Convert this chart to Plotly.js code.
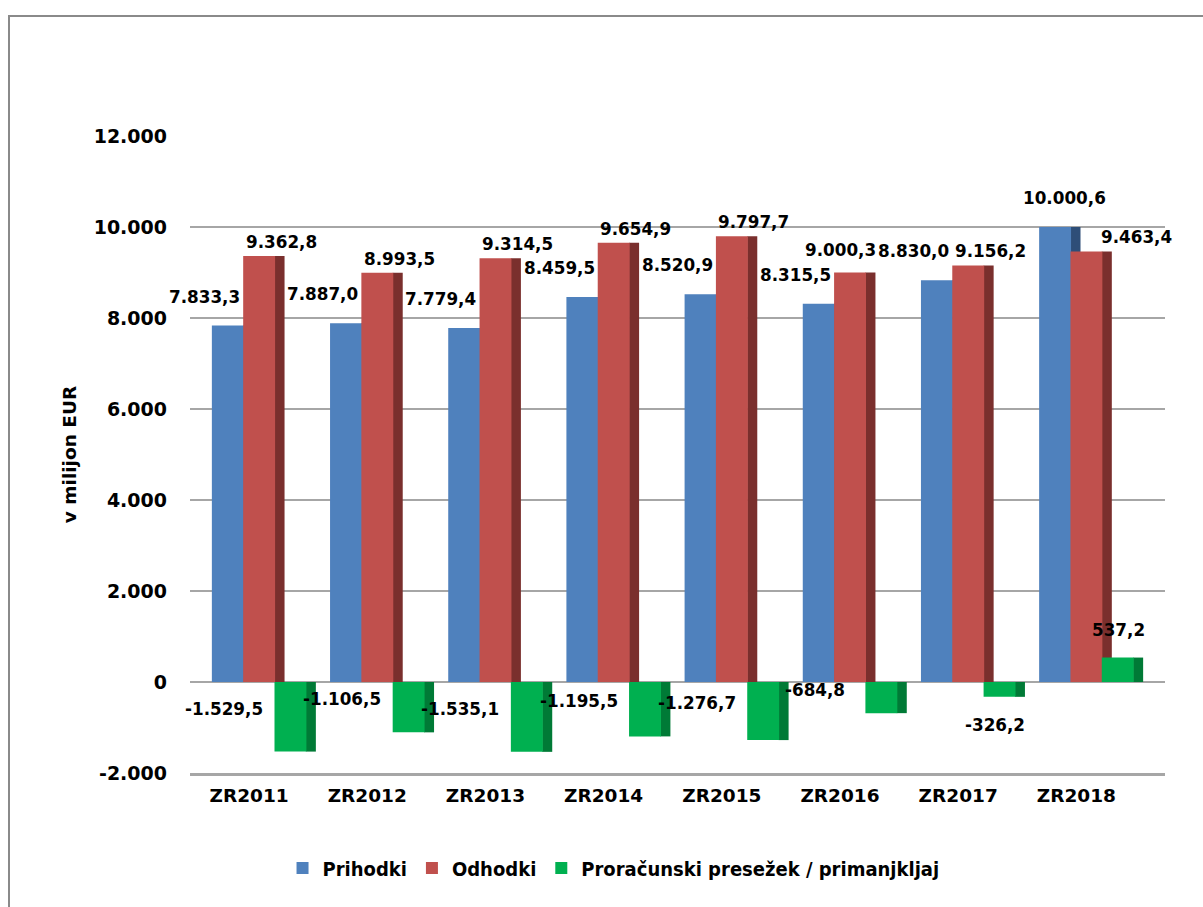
<!DOCTYPE html>
<html>
<head>
<meta charset="utf-8">
<script src="https://cdn.plot.ly/plotly-3.0.1.min.js"></script>
<style>
  html, body { margin:0; padding:0; background:#fff; overflow:hidden; }
  #frame { position:absolute; left:8px; top:15px; width:1300px; height:1000px; border:2px solid #8a8a8a; }
  #chart { position:absolute; left:0; top:0; width:1203px; height:907px; }
</style>
</head>
<body>
<div id="frame"></div>
<div id="chart"></div>
<script>
const categories = ['ZR2011','ZR2012','ZR2013','ZR2014','ZR2015','ZR2016','ZR2017','ZR2018'];
const prihodki = [7833.3, 7887.0, 7779.4, 8459.5, 8520.9, 8315.5, 8830.0, 10000.6];
const odhodki  = [9362.8, 8993.5, 9314.5, 9654.9, 9797.7, 9000.3, 9156.2, 9463.4];
const saldo    = [-1529.5, -1106.5, -1535.1, -1195.5, -1276.7, -684.8, -326.2, 537.2];
const seriesNames = ['Prihodki', 'Odhodki', 'Proračunski presežek / primanjkljaj'];
const yTickVals = [-2000, 0, 2000, 4000, 6000, 8000, 10000, 12000];

function fmt(v, dec) {
  const neg = v < 0;
  let s = Math.abs(v).toFixed(dec);
  let [ip, fp] = s.split('.');
  ip = ip.replace(/\B(?=(\d{3})+(?!\d))/g, '.');
  return (neg ? '-' : '') + ip + (fp !== undefined ? ',' + fp : '');
}

const W = 1203, H = 907;
const margin = {l:190, r:38, t:136, b:134};
const yRange = [-2000, 12000];
const pxPerUnit = (H - margin.t - margin.b) / (yRange[1] - yRange[0]);

const frontW = 0.27, sideW = 0.085;
const series = [
  {name: seriesNames[0], y: prihodki, color:'#4F81BD', side:'#2E4E78', off:-0.315},
  {name: seriesNames[1], y: odhodki,  color:'#C0504D', side:'#7A2F2D', off:-0.05},
  {name: seriesNames[2], y: saldo,    color:'#00B050', side:'#007A36', off: 0.215}
];

const traces = [];
series.forEach(s => {
  traces.push({
    type:'bar', x:categories, y:s.y, width:sideW, offset:s.off + frontW - 0.005,
    marker:{color:s.side, line:{width:0}}, showlegend:false, hoverinfo:'skip'
  });
  traces.push({
    type:'bar', name:s.name, x:categories, y:s.y, width:frontW, offset:s.off,
    marker:{color:s.color, line:{width:0}}, hoverinfo:'y'
  });
});

const labelFont = {family:'DejaVu Sans, Verdana, sans-serif', size:16.8, color:'#000', weight:'bold'};
const blueRaise = 28, redRaise = 14;
const annotations = [];
categories.forEach((c, i) => {
  const blueTaller = prihodki[i] > odhodki[i];
  annotations.push({x:c, y:prihodki[i], text:fmt(prihodki[i],1), showarrow:false,
    xanchor: blueTaller ? 'center' : 'right', xshift: blueTaller ? -12 : -7,
    yshift:blueRaise - 11, yanchor:'bottom', font:labelFont});
  // move the red label left when it would collide with the next group's blue label
  let redDx = blueTaller ? 60 : 32, redDy = 2;
  if (i + 1 < categories.length && !(prihodki[i+1] > odhodki[i+1])) {
    const redCenter = odhodki[i] * pxPerUnit + redRaise;
    const nextBlueCenter = prihodki[i+1] * pxPerUnit + blueRaise;
    if (Math.abs(redCenter - nextBlueCenter) < 22) { redDx = 0; redDy = 10; }
  }
  annotations.push({x:c, y:odhodki[i], text:fmt(odhodki[i],1), showarrow:false,
    xshift: redDx, yshift: redDy, yanchor:'bottom', font:labelFont});
  const v = saldo[i];
  if (v < 0 && Math.abs(v) >= 500) {
    annotations.push({x:c, y:v/2, text:fmt(v,1), showarrow:false,
      xshift:-25, yshift:8, yanchor:'middle', font:labelFont});
  } else {
    annotations.push({x:c, y:v, text:fmt(v,1), showarrow:false,
      xshift: v < 0 ? 37 : 42, yshift: v < 0 ? -16 : 16, yanchor: v < 0 ? 'top' : 'bottom', font:labelFont});
  }
});

const layout = {
  width:W, height:H,
  margin:margin,
  paper_bgcolor:'rgba(0,0,0,0)', plot_bgcolor:'rgba(0,0,0,0)',
  barmode:'overlay',
  showlegend:true,
  legend:{orientation:'h', xref:'container', yref:'container', x:0.51, xanchor:'center', y:0.043, yanchor:'middle',
    font:{family:'DejaVu Sans Condensed, DejaVu Sans, sans-serif', size:20, color:'#000', weight:'bold'},
    itemwidth:30, tracegroupgap:0},
  xaxis:{
    type:'category', range:[-0.5, 7.75], showgrid:false, zeroline:false,
    showline:true, linecolor:'#a6a6a6', linewidth:3,
    ticks:'', ticklabelstandoff:4,
    tickfont:{family:'DejaVu Sans, Verdana, sans-serif', size:18.5, color:'#000', weight:'bold'}
  },
  yaxis:{
    range:yRange, tickvals:yTickVals, ticktext:yTickVals.map(v => fmt(v,0)),
    showgrid:true, gridcolor:'#a6a6a6', gridwidth:2, zeroline:true, zerolinecolor:'#a6a6a6', zerolinewidth:2,
    showline:false, ticks:'', ticklabelstandoff:22,
    tickfont:{family:'DejaVu Sans, Verdana, sans-serif', size:19, color:'#000', weight:'bold'},
    title:{text:'v milijon EUR', standoff:12,
      font:{family:'DejaVu Sans, sans-serif', size:18.5, color:'#000', weight:'bold'}}
  },
  annotations:annotations
};

Plotly.newPlot('chart', traces, layout, {displayModeBar:false, staticPlot:true});
</script>
</body>
</html>
